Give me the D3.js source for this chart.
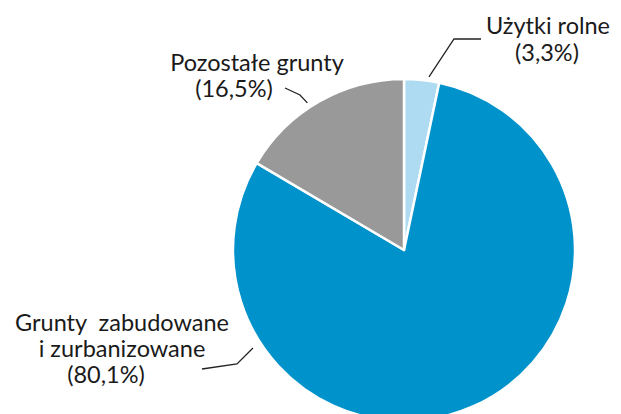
<!DOCTYPE html>
<html>
<head>
<meta charset="utf-8">
<script src="https://cdn.jsdelivr.net/npm/d3@7"></script>
<style>
  html, body { margin: 0; padding: 0; background: #fff; }
  svg { display: block; }
  text { font-family: Lato, "Open Sans", sans-serif; fill: #1a1a1a; white-space: pre; }
</style>
</head>
<body>
<svg id="chart" width="621" height="414"></svg>
<script>
// Land use structure (percent)
const categories = ["Użytki rolne", "Grunty zabudowane i zurbanizowane", "Pozostałe grunty"];
const shares = [3.3, 80.1, 16.5];
const shareLabels = ["(3,3%)", "(80,1%)", "(16,5%)"];
const colors = ["#aedbf1", "#0092cb", "#999999"];

const svg = d3.select("#chart");
const cx = 404, cy = 250, radius = 171;

const pie = d3.pie().sort(null).value(d => d.value);
const arcs = pie(categories.map((c, i) => ({ name: c, value: shares[i], color: colors[i] })));
const arc = d3.arc().innerRadius(0).outerRadius(radius);

const g = svg.append("g").attr("transform", `translate(${cx},${cy})`);
g.selectAll("path")
  .data(arcs)
  .join("path")
  .attr("d", arc)
  .attr("fill", d => d.data.color)
  .attr("stroke", "#fff")
  .attr("stroke-width", 2.5)
  .attr("stroke-linejoin", "round");

// Leader lines: start just outside the rim at a point inside each slice
function rimPoint(d, frac, gap) {
  const a = d.startAngle + (d.endAngle - d.startAngle) * frac;
  return [cx + Math.sin(a) * (radius + gap), cy - Math.cos(a) * (radius + gap)];
}
const leaders = [
  [rimPoint(arcs[0], 0.69, 4), [454, 39], [481, 39]],
  [rimPoint(arcs[1], 0.78, 9), [237, 364], [202, 369]],
  [rimPoint(arcs[2], 0.44, 5), [300, 95], [285, 88]]
];
svg.append("g")
  .selectAll("path")
  .data(leaders)
  .join("path")
  .attr("d", d => d3.line()(d))
  .attr("fill", "none")
  .attr("stroke", "#222")
  .attr("stroke-width", 1.3);

// Labels
const labelBlocks = [
  { lines: [[categories[0], 548, 34], [shareLabels[0], 547, 61]] },
  { lines: [["Grunty  zabudowane", 122, 331], ["i zurbanizowane", 122, 357], [shareLabels[1], 106, 383]] },
  { lines: [[categories[2], 257, 71], [shareLabels[2], 234, 97]] }
];
const lg = svg.append("g").attr("font-size", 23.5);
labelBlocks.forEach(b => {
  b.lines.forEach(([t, x, y]) => {
    lg.append("text").attr("x", x).attr("y", y).attr("text-anchor", "middle").text(t);
  });
});
</script>
</body>
</html>
